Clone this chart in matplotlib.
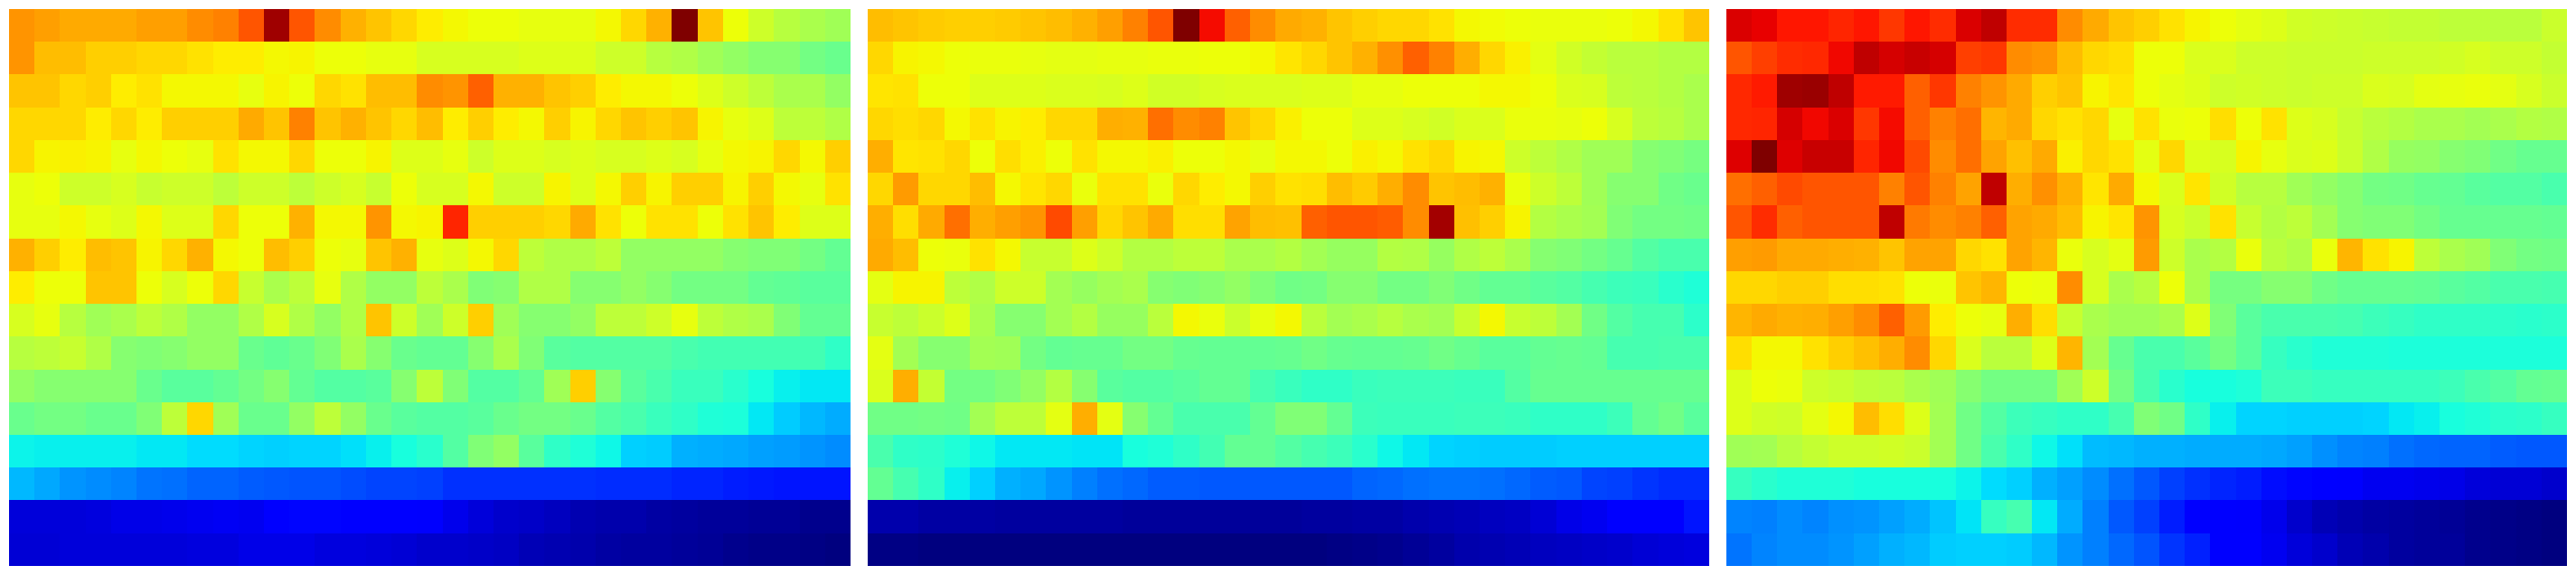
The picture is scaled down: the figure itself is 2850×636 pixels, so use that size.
import numpy as np
import matplotlib
matplotlib.use("Agg")
import matplotlib.pyplot as plt

panel_a = [
[75,74,73,73,73,74,74,76,77,82,97,82,76,72,70,68,66,64.5,64,64,63,63,63,64.5,68,72,100,70,64,60,57.2,55.5,54.5],
[75,71,71,69,69,68,68,67,66,66,64.5,65,64,64,63,63,61,61,61,61,62,62,62,60,60,57.2,56.3,54.5,53,51.5,51.5,49,48],
[70,70,68,69,66,67,64.5,64.5,64.5,63,65,64,68,67,71,71,76,75,80.5,72,72,70,69,66,64.5,64.5,64,62,60,58.2,55.5,55.5,53],
[68,68,68,66,68,66,69,69,69,73,70,77,70,72,70,68,71,66,69,66,64.5,69,65,68,70,69,70,65,63,62,58.2,58.2,56.3],
[68,65,65.5,65,63,64.5,64,63,67,64.5,64.5,68,64,64,65,62,62,63,60,62,62,61,62,61,61,62,61,63,64.5,65,68,64.5,69],
[63,64,60,60,61,59.2,60,60,58.2,60,60,58.2,60,61,59.2,64,61,61,64.5,60,60,65,62,64.5,69,65,69,69,65,69,64.5,63,67],
[63,63,64.5,63,62,64.5,62,62,68,64,64,72,64.5,64.5,75,64.5,65,87,69,69,69,68,73,67,64,67,67,64,67,70,66,62,62],
[72,69,66,71,70,65,68,72,64.5,64,71,69,64,63,70,72,63,62,64.5,68,58.2,56.3,56.3,58.2,53,53,53,53,51.5,50.5,50.5,49,47],
[66,64,64,70,70,64,61,64,68,59.2,55.5,58.2,63,56.3,53,53,58.2,55.5,50.5,51.5,56.3,56.3,51.5,51.5,53,51.5,49,49,49,47,46.5,46,46],
[61,63,57.2,54.5,55.5,58.2,56.3,53,53,56.3,61,56.3,53,56.3,70,60,54.5,60,69,54.5,51.5,51.5,53,58.2,58.2,60,63,58.2,56.3,55.5,50.5,47,47],
[57.2,58.2,59.2,56.3,51.5,50.5,51.5,53,53,48,46.5,48,50.5,55.5,51.5,48,47,47,51.5,55.5,50.5,46,45,45,45,45,44,43,43,43,43,43,41],
[53,51.5,51.5,51.5,51.5,48,46,46,47,49,51.5,47,45,45,46,51.5,58.2,50.5,45,45,47,54.5,69,51.5,46,44,42,42,40,38,36,35.5,35.5],
[48,49,49,48,48,50.5,58.2,68,54.5,48,48,53,58.2,53,48,46,45,45,46,48,49,49,48,45,44,42,41,39,38.5,35.5,32.5,30.5,29.6],
[36.5,36,36,36,36,35.5,35.5,34,34,33.5,33,33.5,33.5,34.5,36,38,40,45,50.5,53,46,41,39,37,33,32.5,30,29.6,29,28.3,27.8,27.2,26.2],
[30.5,29,27.2,26.2,25.5,24.2,23.7,22.3,22.3,21.8,21.3,20.8,20.8,20.3,19.5,19.5,18.8,17.2,17.2,17.2,17.2,17.2,17.2,16.8,16.8,16.8,16.4,16.4,15.6,15,14.7,14.7,14.5],
[8,8,8,8.5,9,9,9.5,10,10.5,10,12.6,13.2,13.2,12.6,12,11.5,11,9.5,8,7,6.5,5.5,4.5,4,4,3.5,3,2.5,2.5,2,2,1.5,1.5],
[7.5,7.5,8,8,8,8,8,8.5,8.5,9,9,9,8.5,8.5,8,7.5,7,7,6.5,6,5,4.5,4,3.5,3,3,2.5,2,1.5,1,1,0.5,0],
]

panel_b = [
[71,70,69.5,69,69,69.5,70,71,72,74,77,82,100,89.8,80.5,76,73,72,70,69,68,68,67,64.5,64.2,64,63.5,63.5,63.5,64,64.5,67,70],
[68,65,64.7,64,63.5,63.5,63,62.5,62.5,63,63,63.5,63.5,64,64,64.5,66.5,68,70,72,75.5,80.5,77,72.5,68,65.5,62.5,60.5,58.7,57.7,57.7,56.8,56.8],
[66.5,67,64,64,62,62,62,61.5,61.5,61,62,60.5,60.5,61,61.5,61.5,61.5,62,62,63,63,64,64,64,64.5,64.5,64,61.5,61,58.2,57.7,56.8,55.8],
[68,67.5,68,64.5,67,65,66,68,68,72.5,72,79,76,77,70,68,65.5,64,64,62,62,61,60.5,61.5,61.5,63.5,63.5,63,64,61,58.2,57.2,55.8],
[72.5,66.5,67,68,64,67.5,65.5,64,67,64.5,64.5,65.5,64,64,64.5,63,64.5,64.5,64,65.5,64.5,67,68,65,64.5,60,58.2,56.3,54.5,54.5,51.5,50.5,49.5],
[68,74.5,68,68,71,64.7,66.5,68,63.5,67,67,63.5,68,66,64.5,69,67,67.5,71,69.5,72.5,76,70,71,72,63.5,60,58.2,54.5,51.5,51.5,48.5,48],
[72.5,67.5,73,79,72.5,74,75,83,74,68,70,73,67.5,67.5,73.5,71,70.5,80.5,82,82,81,76,96.5,70.5,69,65,56.8,55.8,55,50.5,49,49,48.5],
[73,71,64,63.5,67,64.5,59.2,59.2,62,60,56.8,56.8,58.2,58.2,55.5,55.5,56.8,55,53.5,53.5,56.8,56.3,53.5,56.3,58.2,55.8,51.5,50.5,49,47.5,45,44,44],
[62.5,65,65,58.2,56.3,60,60,55,53.5,55,55.8,51.5,50.5,51.5,53,50.5,48.5,49,51.5,51.5,49,49,50.5,48.5,47,47,46,45,43.5,42.5,42,40,39],
[59.2,58.2,59.7,62,55.8,51.5,51.5,55,56.8,53.5,53.5,57.7,64.5,63.5,59.7,63,64.5,57.7,55,55.8,57.2,55.8,55,59.2,64.5,59.2,58.2,55,48.5,45,43.5,43.5,40.5],
[62.5,55,51.5,51.5,55,54.5,49,47,47.5,47.5,49,49,47.5,47,47,47,47.5,48.5,47.5,47,47,47.5,48.5,47.5,46,46,47,47.5,47,43.5,43.5,44,44],
[61.5,72.5,58.7,49,49,50.5,53,56.8,51.5,46,45,45,46,47,47,43.5,42,41,41,42,42.5,42.5,42.5,42,42,45,47.5,47.5,47.5,47.5,47.5,47.5,47.5],
[48.5,48.5,49,48.5,55,58.2,58.2,62.5,72.5,62.5,51.5,47,44,44,44,47,50.5,50.5,47,42.5,42,42,42,42.5,42.5,42,41,41,41,42.5,47,48.5,46],
[44,41,40.5,39,37,35.5,35.5,35.5,35,35,38,39,41,43,47,47,45,43.5,42.5,40,37,35.5,33.5,33,32.5,32.5,32.5,33,33,33,33,33,33],
[47,43.5,41,36,33,30,29,27.2,25,23.7,23,21.8,21.8,21.3,21.3,21.3,21.3,21.3,21.3,22.3,23,23.7,24.2,24.2,23.7,23,21.8,21.3,19.5,18.8,17.8,16.8,16.8],
[4,4,3.5,3.5,3.5,3,3,3,3,2.8,2.5,2.5,2.5,2.5,2.5,2.5,2.5,3,3,3.5,3.5,4,4.5,5,5.5,6,7.5,9,10,11.5,11.5,12.5,14.7],
[0.5,0.5,0.3,0.3,0.3,0.2,0.2,0.1,0.1,0.1,0,0,0,0,0,0,0,0.2,0.5,1,1.5,2,3,4,4.5,5,5.5,6,6.5,7,7.5,8,8.5],
]

panel_c = [
[92,90.7,88.5,88.5,87,88.5,85,88.5,86,92,94.5,86,86,76,73,70,69,67,65,64,62.5,62,60.5,60,59.7,59.2,58.7,58.7,58.2,58.2,57.7,57.7,59.7],
[82,84,86,86.5,90,94.5,92.5,93.5,92.5,84,85,76,75,71,68,67.5,64,64,61.5,61.5,60,60,59.7,59.7,59.7,60,60,60,60.5,61,60,60,58.7],
[86.5,88,97,97.5,94.5,88,88,80.5,85,77,75,73,69,70,65,66.5,64,62.5,62,60,60.5,60,59.7,60,60,61.5,61,62.5,63,63.5,62.5,61,59.7],
[86.5,87,92.5,90.2,92,85,89.8,80.5,77,79,71.5,73,68,67,68,63,67,63.5,64,67.5,64,67,62,61,59.2,57.7,56.8,55.8,55.8,55,55.8,56.8,56.3],
[91.5,100,91.5,93.5,93.5,87,90.2,83,76,79,73.5,70.5,73,65.5,68,67,62.5,68,62,61,65,63,61.5,62,59.7,56.3,53.5,53,51.5,50.5,48.5,47.5,47.5],
[79,80.5,83,82,82,82,77,82,77,73.5,94.5,72.5,75.5,72,66.5,73,64.5,61.5,66.5,60.5,57.2,57.2,54.5,53,51.5,49,48.5,47.5,47,46,45,45,44],
[82,86,80.5,82,82,82,94.5,78,76,77,80.5,73.5,73,71,65,66.5,75,61,59.7,67,59.2,56.8,58.2,55,51.5,50.5,50.5,49,47.5,47.5,47.5,47.5,47],
[74,74.5,73,73,72.5,72,70,73.5,73.5,68,67,73.5,71.5,63.5,61,62.5,74.5,60,55.5,56.8,63.5,57.7,56.3,63.5,71.5,67,65,58.2,55.8,54.5,50.5,49,48.5],
[68,68,69,69,67.5,67.5,67,64,63.5,70,71.5,64,63.5,76,61,55.5,57.2,64,55.8,49.5,49.5,51.5,51.5,48.5,47.5,47.5,47.5,47,46,45,44,44,43.5],
[71.5,73,72,72.5,74,76,80.5,74.5,66,64,63,72.5,67.5,59.2,55.8,54.5,54.5,55.8,62,50.5,46,44,44,44,43.5,42.5,41.5,41,41,41,40.5,40,40.5],
[67.5,64.7,64.7,67,69,70.5,72.5,76,68,61.5,57.7,57.7,62,71.5,55,47.5,44,44,46,49,46,41.5,40,39,39,39,38.5,38.5,38.5,38.5,38.5,38.5,38.5],
[62,64,63.5,60,59.2,58.2,57.7,55.8,54.5,51.5,49,49,49,54.5,60,49,43.5,40,38,38,39,42.5,42.5,41.5,41.5,41.5,41.5,41.5,42.5,44,45,47,47.5],
[62,60.5,60,62.5,64.5,71,67.5,62,55,48.5,45,42.5,41.5,41,41,43.5,50.5,48.5,41,36,33.5,33.5,33,33,33,33.5,35.5,36,38,39,40,40.5,41.5],
[54.5,55,57.2,58.7,60,60,60.5,59.7,55,48.5,44,41,37,34.5,31,30.5,30,30,29.6,29.6,29.6,29,28.3,26.7,25.5,25,23.7,23,22.3,22.3,21.8,21.3,21.3],
[41.5,40,39,39,39,38,38,38,38,36.5,34,33,30,28.3,26.2,23.7,21.3,18.8,17.2,16.4,15.6,14,13,12,11,10,10,9.5,9,8,7.5,7.5,7],
[25.5,25,26.2,25.5,26.7,27.2,28.3,29.6,31.7,35,41.5,43.5,35.5,29.6,25,21.3,18.8,15.6,12.5,11.5,11,9.5,7,5,4,3.5,3,2.5,2,1.5,1,0.5,0],
[24.2,25.5,26.2,26.2,27.2,28.3,30,30.5,32.5,33,33,32.5,30.5,27.2,25,23,20.8,17.8,16,12,11.5,10,8,7,5,4,3,2.5,2.5,1.5,1,0.5,0],
]

panels = [panel_a, panel_b, panel_c]
W, H = 2850, 636
lefts = [10, 960, 1910]
pw, top, bottom = 930, 10, 626

fig = plt.figure(figsize=(W / 100, H / 100), dpi=100, facecolor="white")
for left, data in zip(lefts, panels):
    ax = fig.add_axes([left / W, 1 - bottom / H, pw / W, (bottom - top) / H])
    ax.imshow(np.array(data, dtype=float), cmap="jet", vmin=0, vmax=100,
              aspect="auto", interpolation="nearest")
    ax.axis("off")
fig.savefig("out.png", dpi=100, facecolor="white")
